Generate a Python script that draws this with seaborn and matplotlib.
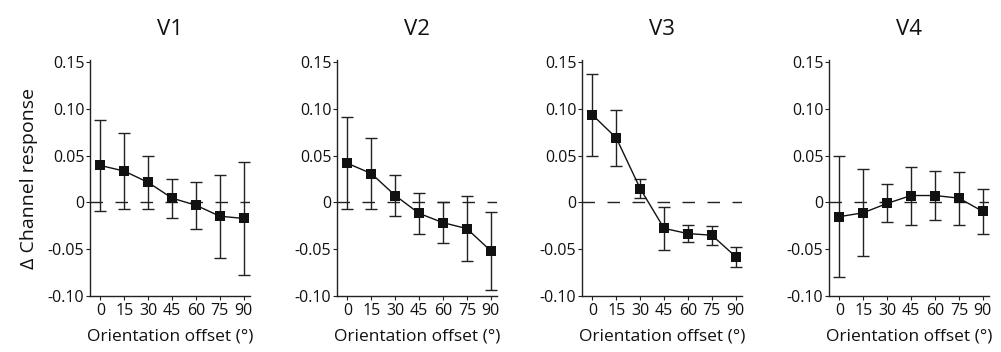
import matplotlib
matplotlib.use('Agg')
import matplotlib.pyplot as plt
import seaborn as sns
import pandas as pd

# Данные
offsets = [0, 15, 30, 45, 60, 75, 90]
regions = ['V1', 'V2', 'V3', 'V4']

v1_mean = [0.0395, 0.0335, 0.0214, 0.0046, -0.0030, -0.0147, -0.0171]
v1_err = [0.0488, 0.0410, 0.0287, 0.0209, 0.0250, 0.0445, 0.0608]

v2_mean = [0.0418, 0.0309, 0.0074, -0.0117, -0.0216, -0.0280, -0.0518]
v2_err = [0.0490, 0.0383, 0.0218, 0.0222, 0.0217, 0.0346, 0.0420]

v3_mean = [0.0936, 0.0690, 0.0149, -0.0277, -0.0333, -0.0350, -0.0580]
v3_err = [0.0440, 0.0300, 0.0098, 0.0227, 0.0093, 0.0100, 0.0105]

v4_mean = [-0.0152, -0.0110, -0.0010, 0.0074, 0.0074, 0.0046, -0.0096]
v4_err = [0.0644, 0.0465, 0.0202, 0.0310, 0.0266, 0.0284, 0.0238]

means = [v1_mean, v2_mean, v3_mean, v4_mean]
errs = [v1_err, v2_err, v3_err, v4_err]

yticks = [-0.10, -0.05, 0, 0.05, 0.10, 0.15]
ytick_labels = ['-0.10', '-0.05', '0', '0.05', '0.10', '0.15']

sns.set_style('ticks')
plt.rcParams['font.family'] = ['Open Sans', 'DejaVu Sans']
plt.rcParams['font.size'] = 11.5
plt.rcParams['axes.linewidth'] = 1.0
plt.rcParams['xtick.major.size'] = 3
plt.rcParams['ytick.major.size'] = 3
plt.rcParams['xtick.major.pad'] = 2
plt.rcParams['ytick.major.pad'] = 1

fig = plt.figure(figsize=(10.01, 3.52), dpi=100)
lefts = [0.0899, 0.3367, 0.5814, 0.8282]

for i, name in enumerate(regions):
    ax = fig.add_axes([lefts[i], 0.159, 0.16, 0.670])
    df = pd.DataFrame({'offset': offsets, 'response': means[i]})

    ax.axhline(0, color='#222222', lw=1, dashes=(9, 9), zorder=1)
    ax.errorbar(offsets, means[i], yerr=errs[i], fmt='none', ecolor='#222222',
                elinewidth=1, capsize=4, capthick=1, zorder=2)
    sns.lineplot(data=df, x='offset', y='response', ax=ax, color='#111111',
                 marker='s', markersize=7, markeredgewidth=0, lw=1, zorder=3)

    ax.set_xlim(-6.5, 94)
    ax.set_ylim(-0.10, 0.152)
    ax.set_xticks(offsets)
    ax.set_yticks(yticks)
    ax.set_yticklabels(ytick_labels)
    ax.tick_params(colors='#222222', labelcolor='#111111', labelsize=11.5)
    ax.set_xlabel('Orientation offset (°)', fontsize=12.5, labelpad=7,
                  color='#111111')
    if i == 0:
        ax.set_ylabel('Δ Channel response', fontsize=14, labelpad=7,
                      color='#111111')
    else:
        ax.set_ylabel('')
    ax.set_title(name, fontsize=16, pad=18, color='#111111')
    for s in ['left', 'bottom']:
        ax.spines[s].set_color('#222222')
    sns.despine(ax=ax)

fig.savefig('out.png', dpi=100)
